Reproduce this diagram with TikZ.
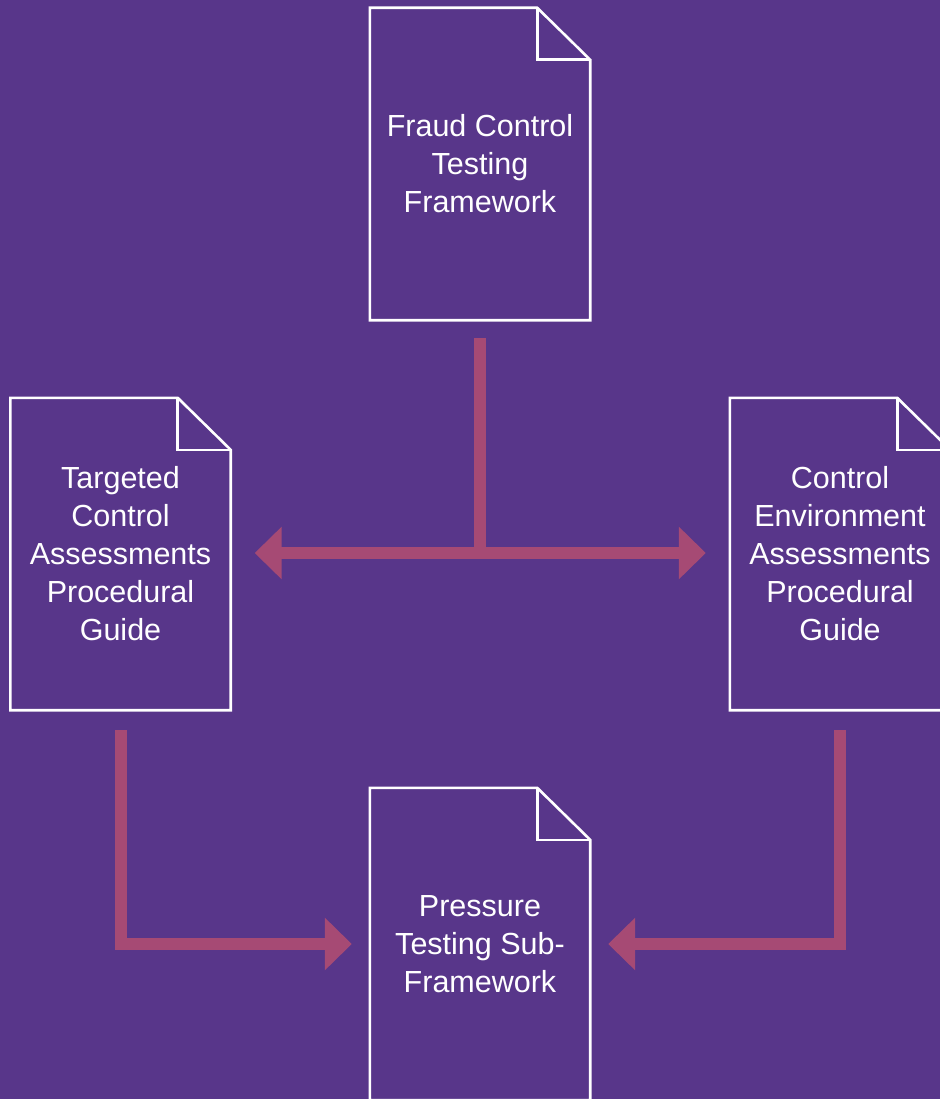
\documentclass[tikz,border=0pt]{standalone}
\usepackage{fontspec}
\setmainfont{Liberation Sans}
\usetikzlibrary{arrows.meta,calc}
\definecolor{bgpurple}{RGB}{88,54,138}
\definecolor{linkpink}{RGB}{166,74,116}
\tikzset{
  doc/.style={draw=none, minimum width=220pt, minimum height=312pt, inner sep=0pt,
    align=center, text=white, font=\fontsize{30.5}{38}\selectfont},
  docline/.style={draw=white, line width=2.6pt, line join=miter},
  link/.style={draw=linkpink, line width=12pt, line join=miter},
  linkarrow/.style={link, -{Triangle[length=27pt,width=51pt]}}
}
% folded-corner outline around a document node
\newcommand{\docoutline}[1]{%
  \draw[docline] (#1.north west) -- ($(#1.north east)+(-53,0)$)
    -- ($(#1.north east)+(0,52)$) -- (#1.south east) -- (#1.south west) -- cycle;
  \draw[docline] ($(#1.north east)+(-53,0)$) -- ($(#1.north east)+(-53,52)$)
    -- ($(#1.north east)+(0,52)$);
}
\begin{document}
\begin{tikzpicture}[x=1pt,y=-1pt]
\useasboundingbox (0,0) rectangle (940,1099);
\fill[bgpurple] (0,0) rectangle (940,1099);
\clip (0,0) rectangle (940,1099);

\node[doc] (fctf) at (480,164) {Fraud Control\\Testing\\Framework};
\node[doc] (tca) at (120.5,554) {Targeted\\Control\\Assessments\\Procedural\\Guide};
\node[doc] (cea) at (840,554) {Control\\Environment\\Assessments\\Procedural\\Guide};
\node[doc] (ptsf) at (480,944) {Pressure\\Testing Sub-\\Framework};

\docoutline{fctf}
\docoutline{tca}
\docoutline{cea}
\docoutline{ptsf}

\coordinate (split) at (480,553);
\draw[link] ([yshift=-18pt]fctf.south) -- ([yshift=-6pt]split);
\draw[linkarrow] (split) -- ([xshift=24pt]tca.east |- split);
\draw[linkarrow] (split) -- ([xshift=-24pt]cea.west |- split);

\draw[linkarrow] ([yshift=-20pt]tca.south) -- (tca.south |- ptsf.west) -- ([xshift=-18pt]ptsf.west);
\draw[linkarrow] ([yshift=-20pt]cea.south) -- (cea.south |- ptsf.east) -- ([xshift=18pt]ptsf.east);
\end{tikzpicture}
\end{document}
